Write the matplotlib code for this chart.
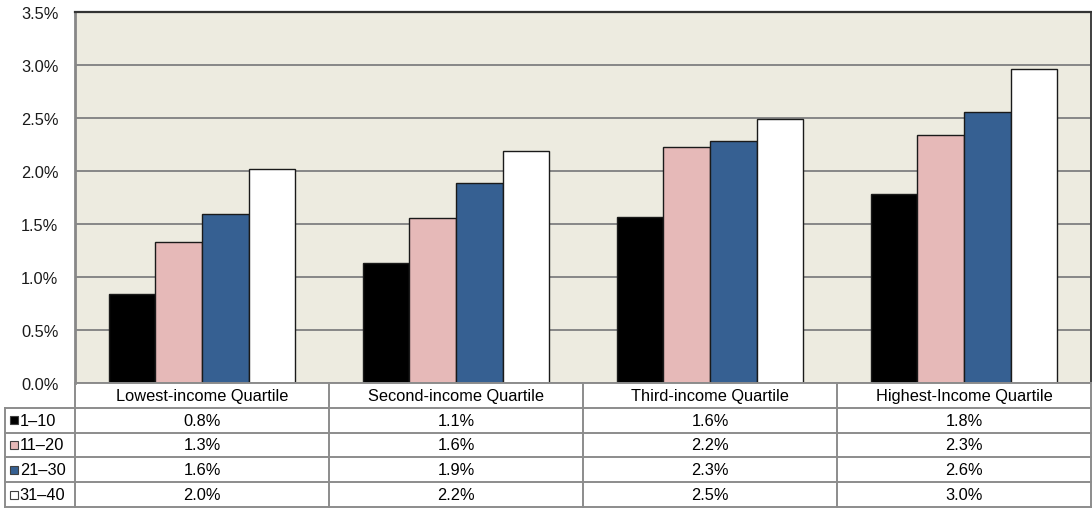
import matplotlib.pyplot as plt
import numpy as np

plt.rcParams['font.family'] = ['Liberation Sans', 'DejaVu Sans']

# quartile categories and age-band series
categories = ["Lowest-income Quartile", "Second-income Quartile",
              "Third-income Quartile", "Highest-Income Quartile"]
series_names = ["1\u201310", "11\u201320", "21\u201330", "31\u201340"]
band_1_10 = [0.84, 1.13, 1.57, 1.78]
band_11_20 = [1.33, 1.56, 2.23, 2.34]
band_21_30 = [1.59, 1.89, 2.28, 2.56]
band_31_40 = [2.02, 2.19, 2.49, 2.96]
y_ticks = [0.0, 0.5, 1.0, 1.5, 2.0, 2.5, 3.0, 3.5]

values = [band_1_10, band_11_20, band_21_30, band_31_40]
colors = ["#000000", "#e6b9b8", "#366092", "#ffffff"]
bg = "#edebe0"
grid_c = "#878787"
fs = 11.8

W, H = 1092, 510
fig = plt.figure(figsize=(W / 100, H / 100), dpi=100)

# main plot area
ax = fig.add_axes([75 / W, (H - 384) / H, 1016 / W, 371 / H])
ax.set_facecolor(bg)
x = np.arange(len(categories))
bw = 0.184
for i, (vals, c) in enumerate(zip(values, colors)):
    ax.bar(x + (i - 1.5) * bw, vals, width=bw, color=c,
           edgecolor="#1a1a1a", linewidth=1.0, zorder=3)

ax.set_xlim(-0.5, len(categories) - 0.5)
ax.set_ylim(0, 3.5)
ax.set_yticks(y_ticks)
ax.set_yticklabels([f"{t:.1f}%" for t in y_ticks], fontsize=fs, color="#1a1a1a")
ax.tick_params(axis='y', length=0, pad=12)
ax.set_xticks([])
ax.yaxis.grid(True, color=grid_c, linewidth=1.4, zorder=0)
ax.set_axisbelow(True)
ax.spines['left'].set_color(grid_c)
ax.spines['left'].set_linewidth(2)
ax.spines['top'].set_color("#333333")
ax.spines['top'].set_linewidth(1.6)
ax.spines['right'].set_color("#404040")
ax.spines['right'].set_linewidth(1.4)
ax.spines['bottom'].set_visible(False)

# data table below the plot
tax = fig.add_axes([5 / W, (H - 508) / H, 1086 / W, 124 / H])
tax.axis('off')
lab_w = 70 / 254
x0 = -0.5 - lab_w
tax.set_xlim(x0, len(categories) - 0.5)
tax.set_ylim(5, 0)
line_kw = dict(color="#8c8c8c", linewidth=1.4, clip_on=False)

# horizontal rules
tax.plot([-0.5, len(categories) - 0.5], [0, 0], **line_kw)
for r in range(1, 6):
    tax.plot([x0, len(categories) - 0.5], [r, r], **line_kw)
# vertical rules
tax.plot([x0, x0], [1, 5], **line_kw)
for k in range(len(categories) + 1):
    tax.plot([k - 0.5, k - 0.5], [0, 5], **line_kw)

for j, cat in enumerate(categories):
    tax.text(j, 0.5, cat, ha='center', va='center', fontsize=fs)
for i, (name, vals, c) in enumerate(zip(series_names, values, colors)):
    yy = i + 1.5
    tax.plot([x0 + 0.034], [yy], marker='s', markersize=6, color=c,
             markeredgecolor="#404040", markeredgewidth=0.8, clip_on=False)
    tax.text(x0 + 0.058, yy, name, ha='left', va='center', fontsize=fs)
    for j, v in enumerate(vals):
        tax.text(j, yy, f"{v:.1f}%", ha='center', va='center', fontsize=fs)

fig.savefig("out.png", dpi=100, facecolor="white")
